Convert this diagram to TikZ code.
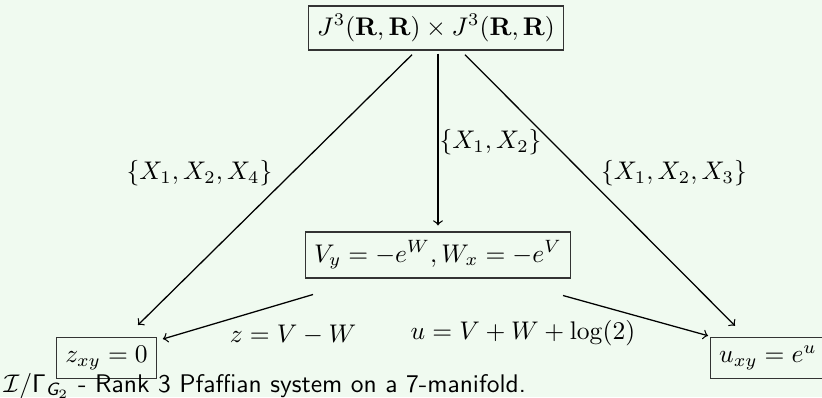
\documentclass[tikz,border=0pt]{standalone}
\usepackage{amsmath,amssymb}
\definecolor{bgmint}{RGB}{240,250,240}
\begin{document}
\begin{tikzpicture}[x=0.3922pt,y=-0.3922pt,
  boxnode/.style={draw=black!80,line width=0.5pt,inner sep=0.3333em,fill=bgmint},
  lbl/.style={inner sep=0pt},
  arr/.style={->,line width=0.5pt,black}]
\fill[bgmint] (0,0) rectangle (822,397);
\useasboundingbox (0,0) rectangle (822,397);
\node[boxnode] (top) at (436,28) {$J^3(\mathbf{R},\mathbf{R})\times J^3(\mathbf{R},\mathbf{R})$};
\node[boxnode] (mid) at (438,255) {$V_y=-e^W,W_x=-e^V$};
\node[boxnode] (left) at (106.5,358) {$z_{xy}=0$};
\node[boxnode] (right) at (768,358) {$u_{xy}=e^u$};
\draw[arr] ([shift={(-24,4)}]top.south) -- ([shift={(31.5,-12)}]left.north);
\draw[arr] ([shift={(2,3)}]top.south) -- ([shift={(0,-6)}]mid.north);
\draw[arr] ([shift={(29,4)}]top.south) -- ([shift={(-33,-11)}]right.north);
\draw[arr] ([shift={(-125,16)}]mid.south) -- ([shift={(6,2)}]left.north east);
\draw[arr] ([shift={(125,17)}]mid.south) -- ([shift={(-2,-1)}]right.north west);
\node[lbl] (l1) at (199.5,173) {$\{X_1,X_2,X_4\}$};
\node[lbl] (l2) at (490.5,142) {$\{X_1,X_2\}$};
\node[lbl] (l3) at (674,173) {$\{X_1,X_2,X_3\}$};
\node[lbl,anchor=base] (l4) at (293,342) {$z=V-W$};
\node[lbl,anchor=base] (l5) at (523,339) {$u=V+W+\log(2)$};
\node[lbl,anchor=base west] (cap) at (3,392) {\sffamily $\mathcal{I}/\mathsf{\Gamma}_{\textsf{\itshape G}_2}$ - Rank 3 Pfaffian system on a 7-manifold.};
\end{tikzpicture}
\end{document}
